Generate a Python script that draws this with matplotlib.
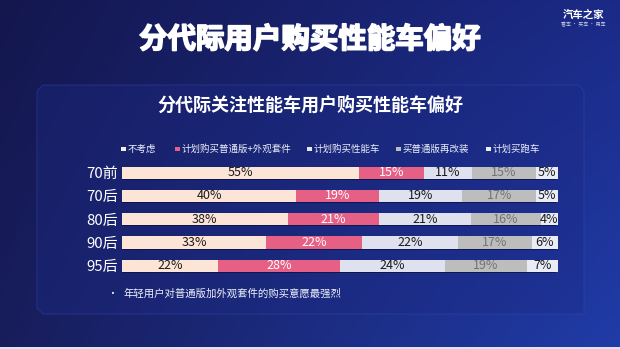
import numpy as np
import matplotlib
matplotlib.use("Agg")
import matplotlib.pyplot as plt
from matplotlib.patches import Polygon, Rectangle
import matplotlib.patheffects as pe

plt.rcParams['font.family'] = ['Noto Sans CJK SC', 'DejaVu Sans']

# ---------------- data ----------------
title = "分代际用户购买性能车偏好"
subtitle = "分代际关注性能车用户购买性能车偏好"
groups = ["70前", "70后", "80后", "90后", "95后"]
series = ["不考虑", "计划购买普通版+外观套件", "计划购买性能车", "买普通版再改装", "计划买跑车"]
no_consider = [55, 40, 38, 33, 22]
basic_kit = [15, 19, 21, 22, 28]
perf_car = [11, 19, 21, 22, 24]
modify = [15, 17, 16, 17, 19]
sports = [5, 5, 4, 6, 7]
note = "年轻用户对普通版加外观套件的购买意愿最强烈"

values = [no_consider, basic_kit, perf_car, modify, sports]
colors = ["#FCE4D6", "#E65F85", "#DFE2EE", "#BDBDBD", "#E9ECF6"]
label_colors = ["#1a1a1a", "#ffffff", "#1a1a1a", "#737373", "#1a1a1a"]
marker_colors = ["#F6ECE6", "#E65F85", "#E6E9F4", "#BDBDBD", "#EEF0F8"]

W, H = 620, 349
fig = plt.figure(figsize=(W / 100, H / 100), dpi=100)

# ---------------- background gradient ----------------
bg = fig.add_axes([0, 0, 1, 1])
bg.set_xlim(0, W)
bg.set_ylim(H, 0)
bg.axis("off")
nx, ny = 200, 120
gx = np.linspace(0, 1, nx)[None, :]
gy = np.linspace(0, 1, ny)[:, None]
tl = np.array([20, 23, 78]) / 255
tr = np.array([27, 42, 135]) / 255
bl = np.array([24, 29, 92]) / 255
br = np.array([32, 60, 168]) / 255
img = ((1 - gx)[..., None] * (1 - gy)[..., None] * tl + gx[..., None] * (1 - gy)[..., None] * tr
       + (1 - gx)[..., None] * gy[..., None] * bl + gx[..., None] * gy[..., None] * br)
bg.imshow(img, extent=[0, W, H, 0], aspect="auto", zorder=0, interpolation="bilinear")

# panel (chamfered rectangle)
c = 6
px0, py0, px1, py1 = 37, 85, 584, 314
panel = Polygon([(px0 + c, py0), (px1 - c, py0), (px1, py0 + c), (px1, py1),
                 (px0 + c, py1), (px0, py1 - c), (px0, py0 + c)], closed=True,
                facecolor="#1c2a86", alpha=0.35, edgecolor="#3850b8", linewidth=0.8, zorder=1)
bg.add_patch(panel)
bg.add_patch(Rectangle((0, H - 2), W, 2, facecolor="#dfe3f0", edgecolor="none", zorder=1))

# titles
bg.text(310, 40, title, color="white", fontsize=20.5, fontweight="bold", ha="center", va="center",
        zorder=3, path_effects=[pe.withStroke(linewidth=1.2, foreground="#ffffff")])
bg.text(310, 105, subtitle, color="white", fontsize=13, fontweight="bold", ha="center", va="center",
        zorder=3)
bg.text(583, 15, "汽车之家", color="white", fontsize=7.5, fontweight="bold", ha="center", va="center", zorder=3)
bg.text(583, 25, "看车 · 买车 · 用车", color="#c8cde8", fontsize=3.6, ha="center", va="center", zorder=3)

# legend
leg_x = [123, 177, 309, 398, 488]
for x, name, mc in zip(leg_x, series, marker_colors):
    bg.add_patch(Rectangle((x - 2, 146.5), 4.5, 4.5, facecolor=mc, edgecolor="none", zorder=3))
    bg.text(x + 4.5, 149, name, color="#eef0fa", fontsize=6.8, ha="left", va="center", zorder=3)

# note
bg.text(112, 293.5, "•", color="white", fontsize=7, ha="center", va="center", zorder=3)
bg.text(123, 293.5, note, color="#eef0fa", fontsize=7.5, ha="left", va="center", zorder=3)

# ---------------- bars ----------------
ax_l, ax_r = 122, 558
row_top, row_bot = 161, 277.5
ax = fig.add_axes([ax_l / W, 1 - row_bot / H, (ax_r - ax_l) / W, (row_bot - row_top) / H])
ax.patch.set_alpha(0)
n = len(groups)
ypos = np.arange(n)
totals = np.sum(np.array(values), axis=0)
bh = 0.52

# subtle shadow behind each full bar
ax.barh(ypos + 0.05, np.ones(n), left=-0.004, height=bh, color="#0b0f3a", alpha=0.7, zorder=1)

left = np.zeros(n)
for vals, col, lc in zip(values, colors, label_colors):
    w = np.array(vals) / totals
    ax.barh(ypos, w, left=left, height=bh, color=col, edgecolor="none", zorder=2)
    for i in range(n):
        ax.text(left[i] + w[i] / 2, ypos[i], f"{vals[i]}%", color=lc, fontsize=9,
                ha="center", va="center", zorder=3)
    left += w

ax.set_xlim(0, 1)
ax.set_ylim(n - 0.5, -0.5)
ax.set_xticks([])
ax.set_yticks(ypos)
ax.set_yticklabels(groups, color="white", fontsize=10.8)
ax.tick_params(axis="y", length=0, pad=3)
for s in ax.spines.values():
    s.set_visible(False)

fig.savefig("out.png", dpi=100)
